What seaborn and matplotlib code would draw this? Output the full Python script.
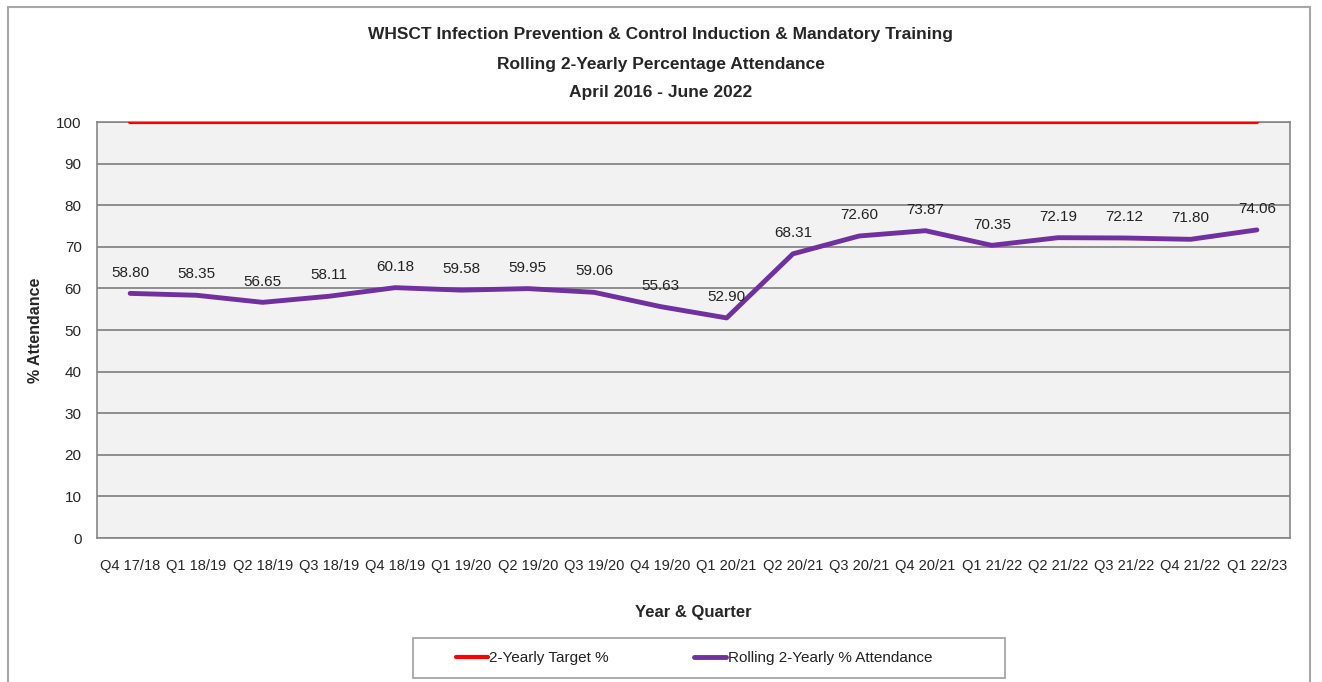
import pandas as pd
import numpy as np
import seaborn as sns
import matplotlib.pyplot as plt
from matplotlib.patches import Rectangle

quarters = ["Q4 17/18", "Q1 18/19", "Q2 18/19", "Q3 18/19", "Q4 18/19", "Q1 19/20",
            "Q2 19/20", "Q3 19/20", "Q4 19/20", "Q1 20/21", "Q2 20/21", "Q3 20/21",
            "Q4 20/21", "Q1 21/22", "Q2 21/22", "Q3 21/22", "Q4 21/22", "Q1 22/23"]
attendance = [58.80, 58.35, 56.65, 58.11, 60.18, 59.58, 59.95, 59.06, 55.63,
              52.90, 68.31, 72.60, 73.87, 70.35, 72.19, 72.12, 71.80, 74.06]
target = [100] * len(quarters)

df = pd.DataFrame({"Quarter": quarters, "Attendance": attendance, "Target": target})
df["pos"] = np.arange(len(df))

sns.set_style("white")
plt.rcParams["font.family"] = ["Liberation Sans", "DejaVu Sans"]

fig = plt.figure(figsize=(13.22, 6.82), dpi=100)
ax = fig.add_axes([97 / 1322, 1 - 538 / 682, (1290 - 97) / 1322, (538 - 122) / 682])
ax.set_facecolor("#f2f2f2")

sns.lineplot(data=df, x="pos", y="Target", ax=ax, color="#ff0000", linewidth=3,
             label="2-Yearly Target %", zorder=3)
sns.lineplot(data=df, x="pos", y="Attendance", ax=ax, color="#7030a0", linewidth=3.5,
             label="Rolling 2-Yearly % Attendance", zorder=3)

# data labels
for i, v in enumerate(attendance):
    ax.annotate(f"{v:.2f}", (i, v), xytext=(0, 15), textcoords="offset points",
                ha="center", va="center", fontsize=11, color="#222222")

ax.set_xlim(-0.5, len(quarters) - 0.5)
ax.set_ylim(0, 100)
ax.set_yticks(np.arange(0, 101, 10))
ax.set_xticks(df["pos"])
ax.set_xticklabels(quarters, fontsize=10.5)
ax.set_xticks(np.arange(-0.5, len(quarters), 1), minor=True)
ax.tick_params(axis="x", which="major", length=0, pad=15)
ax.tick_params(axis="x", which="minor", length=5, color="#868686", width=1)
ax.tick_params(axis="y", length=5, color="#868686", labelsize=11, pad=6)
ax.grid(axis="y", color="#868686", linewidth=1.3)
ax.set_axisbelow(True)
for s in ax.spines.values():
    s.set_color("#868686")
    s.set_linewidth(1.2)

ax.set_xlabel("Year & Quarter", fontsize=12, fontweight="bold")
ax.xaxis.set_label_coords(0.5, (538 - 612) / 416)
ax.xaxis.label.set_va("center")
ax.set_ylabel("% Attendance", fontsize=11.5, fontweight="bold")
ax.yaxis.set_label_coords((35 - 97) / 1193, 0.5)
ax.yaxis.label.set_va("center")

fig.text(0.5, 1 - 35 / 682, "WHSCT Infection Prevention & Control Induction & Mandatory Training",
         ha="center", va="center", fontsize=12.5, fontweight="bold")
fig.text(0.5, 1 - 64 / 682, "Rolling 2-Yearly Percentage Attendance",
         ha="center", va="center", fontsize=12.5, fontweight="bold")
fig.text(0.5, 1 - 93 / 682, "April 2016 - June 2022",
         ha="center", va="center", fontsize=12.5, fontweight="bold")

leg = ax.legend(loc="center", bbox_to_anchor=(694 / 1322, 1 - 658 / 682),
                bbox_transform=fig.transFigure, ncol=2, fontsize=11, frameon=False,
                handlelength=2.1, columnspacing=5.6, handletextpad=0.1, borderaxespad=0)
for t in (leg.get_texts()):
    t.set_color("#222222")

# legend box and outer chart border
fig.patches.append(Rectangle((413 / 1322, 1 - 678 / 682), 592 / 1322, 40 / 682,
                             transform=fig.transFigure, fill=False, edgecolor="#a6a6a6",
                             linewidth=1.3))
fig.patches.append(Rectangle((8 / 1322, -0.05), (1310 - 8) / 1322, 1.05 - 7 / 682,
                             transform=fig.transFigure, fill=False, edgecolor="#a6a6a6",
                             linewidth=1.5))

fig.savefig("out.png", dpi=100)
